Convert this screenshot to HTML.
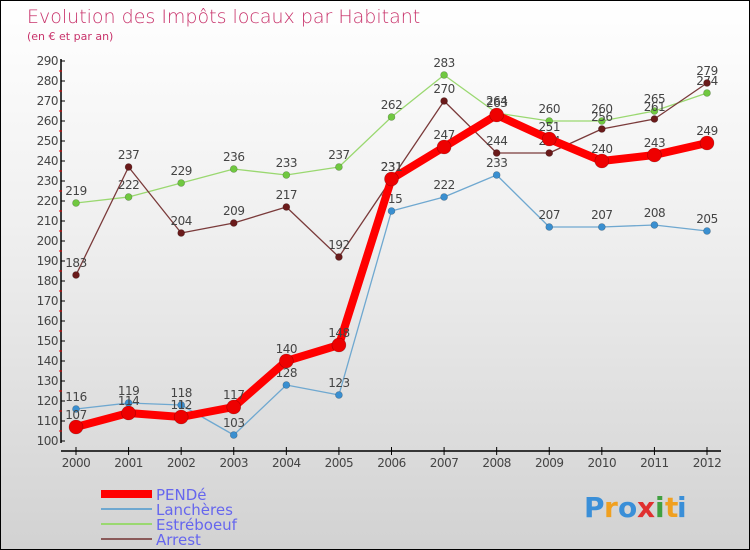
<!DOCTYPE html>
<html><head><meta charset="utf-8"><style>
body{margin:0}
#c{width:748px;height:548px;border:1px solid #000;background:linear-gradient(#fff 0%,#f0f0f0 40%,#d2d2d2 100%);position:relative;font-family:"DejaVu Sans","Liberation Sans",sans-serif;overflow:hidden}
</style></head><body>
<div id="c">
<svg id="s" width="748" height="548" xmlns="http://www.w3.org/2000/svg">
<text x="26" y="22" font-size="19" fill="#c8336b" font-family="DejaVu Sans, sans-serif" font-weight="200">Evolution des Impôts locaux par Habitant</text>
<text x="26" y="39" font-size="11" fill="#c8336b">(en € et par an)</text>
<g id="axes"></g><g id="series"></g><g id="legend"></g>
<g font-size="28" font-weight="bold" font-family="DejaVu Sans, sans-serif">
<text x="583" y="516" fill="#3a8fd8">P</text><text x="603" y="516" fill="#f0a020">r</text><text x="617" y="516" fill="#3a8fd8">o</text><text x="636" y="516" fill="#e03030">x</text><text x="654" y="516" fill="#40a040">i</text><text x="664" y="516" fill="#f0a020">t</text><text x="676" y="516" fill="#3a8fd8">i</text>
</g>
</svg>
</div>
<script>
const years=[2000,2001,2002,2003,2004,2005,2006,2007,2008,2009,2010,2011,2012];
const yTicks=[100,110,120,130,140,150,160,170,180,190,200,210,220,230,240,250,260,270,280,290];
const pende=[107,114,112,117,140,148,231,247,263,251,240,243,249];
const lancheres=[116,119,118,103,128,123,215,222,233,207,207,208,205];
const estreboeuf=[219,222,229,236,233,237,262,283,264,260,260,265,274];
const arrest=[183,237,204,209,217,192,231,270,244,244,256,261,279];
const NS="http://www.w3.org/2000/svg";
function X(i){return 75+i*(706-75)/12;}
function Y(v){return 440-(v-100)*2;}
function mk(t,a,p){const e=document.createElementNS(NS,t);for(const k in a)e.setAttribute(k,a[k]);p.appendChild(e);return e;}
const ax=document.getElementById('axes');
let yl=mk('line',{x1:60,y1:58,x2:60,y2:442,stroke:'#000','stroke-width':1.5},ax);


yTicks.forEach(v=>{
 mk('line',{x1:60,y1:Y(v),x2:64,y2:Y(v),stroke:'#000'},ax);
 if(v<290)mk('line',{x1:58,y1:Y(v)-10,x2:61,y2:Y(v)-10,stroke:'#e00'},ax);
 const t=mk('text',{x:57,y:Y(v)+4,'text-anchor':'end','font-size':12,fill:'#444','letter-spacing':'-0.5'},ax);t.textContent=v;
 
 
});
let xl=mk('line',{x1:60,y1:450,x2:720,y2:450,stroke:'#000','stroke-width':1.5},ax);


years.forEach((y,i)=>{
 mk('line',{x1:X(i),y1:446,x2:X(i),y2:454,stroke:'#000'},ax);
 const t=mk('text',{x:X(i),y:466,'text-anchor':'middle','font-size':12,fill:'#444','letter-spacing':'-0.5'},ax);t.textContent=y;
 
 
});
const sg=document.getElementById('series');
function series(data,color,w,r,dot,name){
 const g=mk('g',{},sg);
 
 
 const l=mk('polyline',{points:data.map((v,i)=>X(i)+','+Y(v)).join(' '),fill:'none',stroke:color,'stroke-width':w,'stroke-linejoin':'round'},g);
 
 
 data.forEach((v,i)=>{
  const c=mk('circle',{cx:X(i),cy:Y(v),r:r,fill:dot,stroke:'rgba(0,0,0,0.3)','stroke-width':0.6},g);
  
  
  const t=mk('text',{x:X(i),y:Y(v)-8,'text-anchor':'middle','font-size':12,fill:'#444','letter-spacing':'-0.5'},g);t.textContent=v;
  
  
 });
}
series(lancheres,'#6fa8d0',1.3,3.5,'#3a8fd0','lancheres');
series(estreboeuf,'#9ad870',1.3,3.5,'#70c840','estreboeuf');
series(arrest,'#7a3a3a',1.3,3.5,'#6a1a1a','arrest');
series(pende,'#ff0000',8,7,'#ee0000','pende');
const lg=document.getElementById('legend');
const items=[['PENDé','#ff0000',8],['Lanchères','#6fa8d0',2],['Estréboeuf','#9ad870',2],['Arrest','#8a5a5a',2]];
items.forEach((it,i)=>{
 const y=493+i*15;
 const g=mk('g',{},lg);
 
 
 mk('line',{x1:100,y1:y,x2:151,y2:y,stroke:it[1],'stroke-width':it[2]},g);
 const t=mk('text',{x:155,y:y+6,'font-size':15,fill:'#6666ee'},g);t.textContent=it[0];
});
</script>
</body></html>
